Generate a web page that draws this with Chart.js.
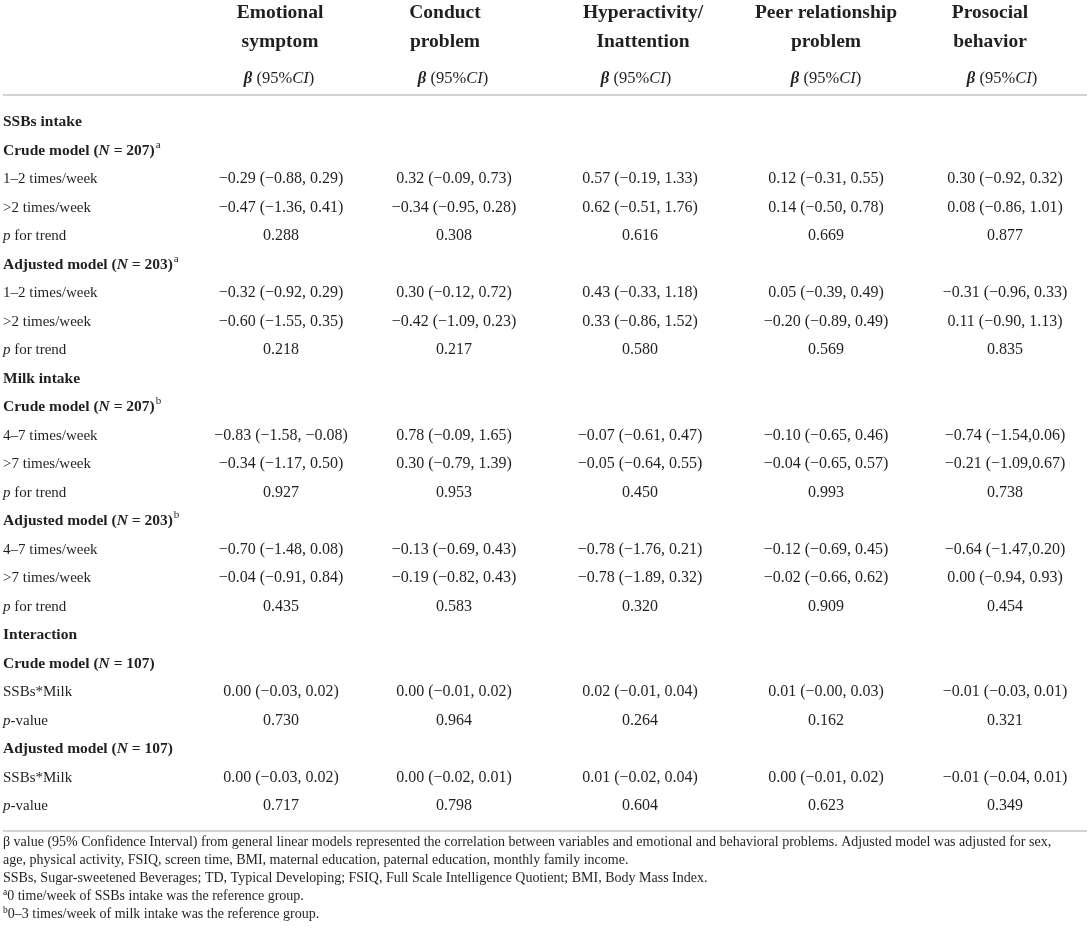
<!DOCTYPE html>
<html>
<head>
<meta charset="utf-8">
<script src="https://cdn.jsdelivr.net/npm/chart.js@4.4.0/dist/chart.umd.min.js"></script>
<style>
  html, body { margin: 0; padding: 0; background: #fff; }
</style>
</head>
<body>
<canvas id="table" width="1090" height="940"></canvas>
<script>
// Row labels down the left side (_x_ = italic part)
const rowLabels = [
  'SSBs intake',
  'Crude model (_N_ = 207)',
  '1–2 times/week',
  '>2 times/week',
  '_p_ for trend',
  'Adjusted model (_N_ = 203)',
  '1–2 times/week',
  '>2 times/week',
  '_p_ for trend',
  'Milk intake',
  'Crude model (_N_ = 207)',
  '4–7 times/week',
  '>7 times/week',
  '_p_ for trend',
  'Adjusted model (_N_ = 203)',
  '4–7 times/week',
  '>7 times/week',
  '_p_ for trend',
  'Interaction',
  'Crude model (_N_ = 107)',
  'SSBs*Milk',
  '_p_-value',
  'Adjusted model (_N_ = 107)',
  'SSBs*Milk',
  '_p_-value'
];
// footnote marks after the model rows
const rowMarks = ['', 'a', '', '', '', 'a', '', '', '', '', 'b', '', '', '', 'b', '', '', '', '', '', '', '', '', '', ''];

// column titles
const columnTitles = [
  ['Emotional', 'symptom'],
  ['Conduct', 'problem'],
  ['Hyperactivity/', 'Inattention'],
  ['Peer relationship', 'problem'],
  ['Prosocial', 'behavior']
];

// beta (95% CI) and p values per column, null = heading row
const emotional = [null, null, '−0.29 (−0.88, 0.29)', '−0.47 (−1.36, 0.41)', '0.288',
  null, '−0.32 (−0.92, 0.29)', '−0.60 (−1.55, 0.35)', '0.218',
  null, null, '−0.83 (−1.58, −0.08)', '−0.34 (−1.17, 0.50)', '0.927',
  null, '−0.70 (−1.48, 0.08)', '−0.04 (−0.91, 0.84)', '0.435',
  null, null, '0.00 (−0.03, 0.02)', '0.730', null, '0.00 (−0.03, 0.02)', '0.717'];
const conduct = [null, null, '0.32 (−0.09, 0.73)', '−0.34 (−0.95, 0.28)', '0.308',
  null, '0.30 (−0.12, 0.72)', '−0.42 (−1.09, 0.23)', '0.217',
  null, null, '0.78 (−0.09, 1.65)', '0.30 (−0.79, 1.39)', '0.953',
  null, '−0.13 (−0.69, 0.43)', '−0.19 (−0.82, 0.43)', '0.583',
  null, null, '0.00 (−0.01, 0.02)', '0.964', null, '0.00 (−0.02, 0.01)', '0.798'];
const hyperactivity = [null, null, '0.57 (−0.19, 1.33)', '0.62 (−0.51, 1.76)', '0.616',
  null, '0.43 (−0.33, 1.18)', '0.33 (−0.86, 1.52)', '0.580',
  null, null, '−0.07 (−0.61, 0.47)', '−0.05 (−0.64, 0.55)', '0.450',
  null, '−0.78 (−1.76, 0.21)', '−0.78 (−1.89, 0.32)', '0.320',
  null, null, '0.02 (−0.01, 0.04)', '0.264', null, '0.01 (−0.02, 0.04)', '0.604'];
const peer = [null, null, '0.12 (−0.31, 0.55)', '0.14 (−0.50, 0.78)', '0.669',
  null, '0.05 (−0.39, 0.49)', '−0.20 (−0.89, 0.49)', '0.569',
  null, null, '−0.10 (−0.65, 0.46)', '−0.04 (−0.65, 0.57)', '0.993',
  null, '−0.12 (−0.69, 0.45)', '−0.02 (−0.66, 0.62)', '0.909',
  null, null, '0.01 (−0.00, 0.03)', '0.162', null, '0.00 (−0.01, 0.02)', '0.623'];
const prosocial = [null, null, '0.30 (−0.92, 0.32)', '0.08 (−0.86, 1.01)', '0.877',
  null, '−0.31 (−0.96, 0.33)', '0.11 (−0.90, 1.13)', '0.835',
  null, null, '−0.74 (−1.54,0.06)', '−0.21 (−1.09,0.67)', '0.738',
  null, '−0.64 (−1.47,0.20)', '0.00 (−0.94, 0.93)', '0.454',
  null, null, '−0.01 (−0.03, 0.01)', '0.321', null, '−0.01 (−0.04, 0.01)', '0.349'];

const columns = [emotional, conduct, hyperactivity, peer, prosocial];

const footnotes = [
  ['', 'β value (95% Confidence Interval) from general linear models represented the correlation between variables and emotional and behavioral problems. Adjusted model was adjusted for sex,'],
  ['', 'age, physical activity, FSIQ, screen time, BMI, maternal education, paternal education, monthly family income.'],
  ['', 'SSBs, Sugar-sweetened Beverages; TD, Typical Developing; FSIQ, Full Scale Intelligence Quotient; BMI, Body Mass Index.'],
  ['a', '0 time/week of SSBs intake was the reference group.'],
  ['b', '0–3 times/week of milk intake was the reference group.']
];

// layout (pixels)
const valueX = [281, 454, 640, 826, 1005];
const headX = [280, 445, 643, 826, 990];
const betaX = [279, 453, 636, 826, 1002];
const SERIF = '"Liberation Serif", "DejaVu Serif", serif';
const INK = '#231f20';
const RULE = '#d2d2d2';

function font(size, bold, italic) {
  return (italic ? 'italic ' : '') + (bold ? 'bold ' : '') + size + 'px ' + SERIF;
}

// draw a list of {t, f} pieces on one baseline
function drawParts(ctx, parts, x, y, align) {
  let w = 0;
  parts.forEach(p => { ctx.font = p.f; w += ctx.measureText(p.t).width + (p.gap || 0); });
  let cx = align === 'center' ? x - w / 2 : x;
  ctx.textAlign = 'left';
  parts.forEach(p => {
    ctx.font = p.f;
    cx += p.gap || 0;
    ctx.fillText(p.t, cx, y + (p.dy || 0));
    cx += ctx.measureText(p.t).width;
  });
}

function labelParts(text, bold, size) {
  const parts = [];
  text.split('_').forEach((s, k) => {
    if (s) parts.push({ t: s, f: font(size, bold, k % 2 === 1) });
  });
  return parts;
}

const tablePlugin = {
  id: 'tablePlugin',
  afterDatasetsDraw(chart) {
    const ctx = chart.ctx;
    const y = chart.scales.y;
    ctx.save();
    ctx.fillStyle = INK;
    ctx.textBaseline = 'alphabetic';

    // column headers
    columnTitles.forEach((lines, j) => {
      ctx.font = font(19.5, true, false);
      ctx.textAlign = 'center';
      ctx.fillText(lines[0], headX[j], 18);
      ctx.fillText(lines[1], headX[j], 47);
      drawParts(ctx, [
        { t: 'β', f: font(16.5, true, true) },
        { t: ' (95%', f: font(16.5, false, false) },
        { t: 'CI', f: font(16.5, false, true) },
        { t: ')', f: font(16.5, false, false) }
      ], betaX[j], 83, 'center');
    });

    // rules
    ctx.strokeStyle = RULE;
    ctx.lineWidth = 2;
    ctx.beginPath();
    ctx.moveTo(3, 95); ctx.lineTo(1087, 95);
    ctx.moveTo(3, 831); ctx.lineTo(1087, 831);
    ctx.stroke();

    // row labels
    rowLabels.forEach((lab, i) => {
      const py = y.getPixelForValue(i) + 5;
      const heading = emotional[i] === null;
      const parts = labelParts(lab, heading, heading ? 15.5 : 15);
      if (rowMarks[i]) parts.push({ t: rowMarks[i], f: font(11, false, false), dy: -7, gap: 1 });
      drawParts(ctx, parts, 3, py, 'left');
    });

    // cells, placed at the (invisible) points of each dataset
    chart.data.datasets.forEach((ds, j) => {
      const meta = chart.getDatasetMeta(j);
      meta.data.forEach((el, k) => {
        const row = ds.data[k].y;
        ctx.font = font(16, false, false);
        ctx.textAlign = 'center';
        ctx.fillText(columns[j][row], el.x, el.y + 5);
      });
    });

    // footnotes
    footnotes.forEach((fn, k) => {
      const by = 846 + k * 18;
      const parts = [];
      if (fn[0]) parts.push({ t: fn[0], f: font(9.5, false, false), dy: -5 });
      parts.push({ t: fn[1], f: font(14, false, false) });
      drawParts(ctx, parts, 3, by, 'left');
    });
    ctx.restore();
  }
};

new Chart(document.getElementById('table'), {
  type: 'scatter',
  data: {
    datasets: columns.map((col, j) => ({
      label: columnTitles[j].join(' '),
      data: col.map((v, i) => v === null ? null : { x: valueX[j], y: i }).filter(p => p !== null),
      pointRadius: 0,
      pointHoverRadius: 0
    }))
  },
  options: {
    responsive: false,
    animation: false,
    layout: { padding: { top: 121, bottom: 135, left: 0, right: 0 } },
    plugins: { legend: { display: false }, tooltip: { enabled: false } },
    scales: {
      x: { type: 'linear', min: 0, max: 1090, display: false },
      // one step per table row, first row at the top
      y: { type: 'linear', min: 0, max: rowLabels.length - 1, reverse: true, display: false }
    }
  },
  plugins: [tablePlugin]
});
</script>
</body>
</html>
